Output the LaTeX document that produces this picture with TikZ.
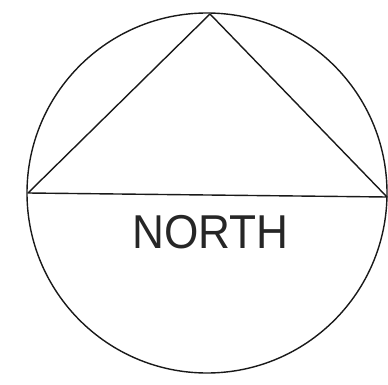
\documentclass[tikz,border=0pt]{standalone}
\usepackage{fontspec}
\setmainfont{Liberation Sans}
\tikzset{
  outline/.style={line width=1.4pt, draw=black!90},
  label/.style={font=\fontsize{47.5}{50}\selectfont, inner sep=0pt, text=black!85, xscale=0.93}
}
\begin{document}
\begin{tikzpicture}[x=1pt,y=-1pt]
\useasboundingbox (0,0) rectangle (388,385);
\node[circle, outline, minimum size=360pt, inner sep=0pt] (c) at (207,193) {};
\coordinate (apex) at (210,14);
\coordinate (bl) at (28,193);
\coordinate (br) at (387,197);
\draw[outline, line join=round] (bl) -- (apex) -- (br) -- cycle;
\node[label, anchor=center] (t) at (210.5,232) {\vphantom{}NORTH};
\end{tikzpicture}
\end{document}
